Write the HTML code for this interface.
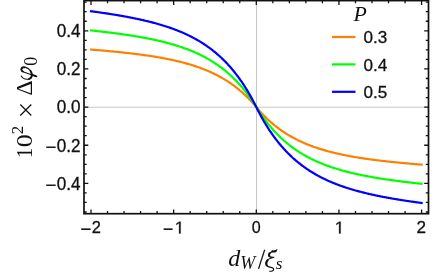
<!DOCTYPE html><html><head><meta charset="utf-8"><style>html,body{margin:0;padding:0;background:#fff;}svg{display:block;will-change:transform;}</style></head><body><svg width="443" height="275" viewBox="0 0 443 275">
<rect width="443" height="275" fill="#fff"/>
<path d="M84.0,107.25 H428.5 M256.5,0.6 V213.7" stroke="#c7c7c7" stroke-width="1" fill="none"/>
<path d="M91.00,49.58 L91.83,49.64 L92.65,49.71 L93.48,49.78 L94.31,49.84 L95.13,49.91 L95.96,49.98 L96.79,50.05 L97.61,50.12 L98.44,50.19 L99.27,50.26 L100.09,50.33 L100.92,50.40 L101.74,50.47 L102.57,50.55 L103.40,50.62 L104.22,50.69 L105.05,50.77 L105.88,50.84 L106.70,50.92 L107.53,50.99 L108.36,51.07 L109.18,51.14 L110.01,51.22 L110.84,51.30 L111.66,51.38 L112.49,51.46 L113.32,51.54 L114.14,51.62 L114.97,51.70 L115.80,51.78 L116.62,51.86 L117.45,51.94 L118.27,52.03 L119.10,52.11 L119.93,52.20 L120.75,52.28 L121.58,52.37 L122.41,52.46 L123.23,52.54 L124.06,52.63 L124.89,52.72 L125.71,52.81 L126.54,52.91 L127.37,53.00 L128.19,53.09 L129.02,53.19 L129.85,53.28 L130.67,53.38 L131.50,53.47 L132.32,53.57 L133.15,53.67 L133.98,53.77 L134.80,53.87 L135.63,53.97 L136.46,54.08 L137.28,54.18 L138.11,54.29 L138.94,54.39 L139.76,54.50 L140.59,54.61 L141.42,54.72 L142.24,54.83 L143.07,54.94 L143.90,55.06 L144.72,55.17 L145.55,55.29 L146.38,55.41 L147.20,55.53 L148.03,55.65 L148.86,55.77 L149.68,55.89 L150.51,56.02 L151.33,56.15 L152.16,56.27 L152.99,56.40 L153.81,56.54 L154.64,56.67 L155.47,56.80 L156.29,56.94 L157.12,57.08 L157.95,57.22 L158.77,57.36 L159.60,57.51 L160.43,57.65 L161.25,57.80 L162.08,57.95 L162.91,58.10 L163.73,58.25 L164.56,58.41 L165.38,58.57 L166.21,58.73 L167.04,58.89 L167.86,59.06 L168.69,59.22 L169.52,59.39 L170.34,59.56 L171.17,59.74 L172.00,59.92 L172.82,60.09 L173.65,60.28 L174.48,60.46 L175.30,60.65 L176.13,60.84 L176.96,61.03 L177.78,61.23 L178.61,61.43 L179.44,61.63 L180.26,61.83 L181.09,62.04 L181.92,62.25 L182.74,62.47 L183.57,62.68 L184.39,62.90 L185.22,63.13 L186.05,63.36 L186.87,63.59 L187.70,63.82 L188.53,64.06 L189.35,64.30 L190.18,64.55 L191.01,64.80 L191.83,65.06 L192.66,65.31 L193.49,65.58 L194.31,65.84 L195.14,66.11 L195.97,66.39 L196.79,66.67 L197.62,66.95 L198.45,67.24 L199.27,67.54 L200.10,67.84 L200.92,68.14 L201.75,68.45 L202.58,68.76 L203.40,69.08 L204.23,69.41 L205.06,69.74 L205.88,70.07 L206.71,70.41 L207.54,70.76 L208.36,71.11 L209.19,71.47 L210.02,71.84 L210.84,72.21 L211.67,72.59 L212.50,72.97 L213.32,73.36 L214.15,73.76 L214.98,74.17 L215.80,74.58 L216.63,75.00 L217.45,75.42 L218.28,75.86 L219.11,76.30 L219.93,76.75 L220.76,77.20 L221.59,77.67 L222.41,78.14 L223.24,78.62 L224.07,79.11 L224.89,79.61 L225.72,80.12 L226.55,80.64 L227.37,81.16 L228.20,81.70 L229.03,82.25 L229.85,82.80 L230.68,83.37 L231.50,83.94 L232.33,84.53 L233.16,85.12 L233.98,85.73 L234.81,86.35 L235.64,86.98 L236.46,87.62 L237.29,88.27 L238.12,88.94 L238.94,89.61 L239.77,90.30 L240.60,91.00 L241.42,91.72 L242.25,92.45 L243.08,93.19 L243.90,93.94 L244.73,94.71 L245.56,95.49 L246.38,96.29 L247.21,97.10 L248.03,97.93 L248.86,98.77 L249.69,99.63 L250.51,100.51 L251.34,101.40 L252.17,102.30 L252.99,103.23 L253.82,104.17 L254.65,105.13 L255.47,106.10 L256.30,107.10 L257.13,108.10 L257.95,109.07 L258.78,110.03 L259.61,110.97 L260.43,111.90 L261.26,112.80 L262.09,113.69 L262.91,114.57 L263.74,115.43 L264.56,116.27 L265.39,117.10 L266.22,117.91 L267.04,118.71 L267.87,119.49 L268.70,120.26 L269.52,121.01 L270.35,121.75 L271.18,122.48 L272.00,123.20 L272.83,123.90 L273.66,124.59 L274.48,125.26 L275.31,125.93 L276.14,126.58 L276.96,127.22 L277.79,127.85 L278.62,128.47 L279.44,129.08 L280.27,129.67 L281.10,130.26 L281.92,130.83 L282.75,131.40 L283.57,131.95 L284.40,132.50 L285.23,133.04 L286.05,133.56 L286.88,134.08 L287.71,134.59 L288.53,135.09 L289.36,135.58 L290.19,136.06 L291.01,136.53 L291.84,137.00 L292.67,137.45 L293.49,137.90 L294.32,138.34 L295.15,138.78 L295.97,139.20 L296.80,139.62 L297.62,140.03 L298.45,140.44 L299.28,140.84 L300.10,141.23 L300.93,141.61 L301.76,141.99 L302.58,142.36 L303.41,142.73 L304.24,143.09 L305.06,143.44 L305.89,143.79 L306.72,144.13 L307.54,144.46 L308.37,144.79 L309.20,145.12 L310.02,145.44 L310.85,145.75 L311.68,146.06 L312.50,146.36 L313.33,146.66 L314.16,146.96 L314.98,147.25 L315.81,147.53 L316.63,147.81 L317.46,148.09 L318.29,148.36 L319.11,148.62 L319.94,148.89 L320.77,149.14 L321.59,149.40 L322.42,149.65 L323.25,149.90 L324.07,150.14 L324.90,150.38 L325.73,150.61 L326.55,150.84 L327.38,151.07 L328.21,151.30 L329.03,151.52 L329.86,151.73 L330.69,151.95 L331.51,152.16 L332.34,152.37 L333.16,152.57 L333.99,152.77 L334.82,152.97 L335.64,153.17 L336.47,153.36 L337.30,153.55 L338.12,153.74 L338.95,153.92 L339.78,154.11 L340.60,154.28 L341.43,154.46 L342.26,154.64 L343.08,154.81 L343.91,154.98 L344.74,155.14 L345.56,155.31 L346.39,155.47 L347.22,155.63 L348.04,155.79 L348.87,155.95 L349.69,156.10 L350.52,156.25 L351.35,156.40 L352.17,156.55 L353.00,156.69 L353.83,156.84 L354.65,156.98 L355.48,157.12 L356.31,157.26 L357.13,157.40 L357.96,157.53 L358.79,157.66 L359.61,157.80 L360.44,157.93 L361.27,158.05 L362.09,158.18 L362.92,158.31 L363.75,158.43 L364.57,158.55 L365.40,158.67 L366.22,158.79 L367.05,158.91 L367.88,159.03 L368.70,159.14 L369.53,159.26 L370.36,159.37 L371.18,159.48 L372.01,159.59 L372.84,159.70 L373.66,159.81 L374.49,159.91 L375.32,160.02 L376.14,160.12 L376.97,160.23 L377.80,160.33 L378.62,160.43 L379.45,160.53 L380.28,160.63 L381.10,160.73 L381.93,160.82 L382.75,160.92 L383.58,161.01 L384.41,161.11 L385.23,161.20 L386.06,161.29 L386.89,161.39 L387.71,161.48 L388.54,161.57 L389.37,161.66 L390.19,161.74 L391.02,161.83 L391.85,161.92 L392.67,162.00 L393.50,162.09 L394.33,162.17 L395.15,162.26 L395.98,162.34 L396.81,162.42 L397.63,162.50 L398.46,162.58 L399.28,162.66 L400.11,162.74 L400.94,162.82 L401.76,162.90 L402.59,162.98 L403.42,163.06 L404.24,163.13 L405.07,163.21 L405.90,163.28 L406.72,163.36 L407.55,163.43 L408.38,163.51 L409.20,163.58 L410.03,163.65 L410.86,163.73 L411.68,163.80 L412.51,163.87 L413.34,163.94 L414.16,164.01 L414.99,164.08 L415.81,164.15 L416.64,164.22 L417.47,164.29 L418.29,164.36 L419.12,164.42 L419.95,164.49 L420.77,164.56 L421.60,164.62" stroke="#ff8000" stroke-width="2.2" fill="none" stroke-linejoin="round" stroke-linecap="square"/>
<path d="M91.00,30.40 L91.83,30.49 L92.65,30.58 L93.48,30.67 L94.31,30.76 L95.13,30.85 L95.96,30.94 L96.79,31.03 L97.61,31.13 L98.44,31.22 L99.27,31.31 L100.09,31.41 L100.92,31.50 L101.74,31.60 L102.57,31.70 L103.40,31.79 L104.22,31.89 L105.05,31.99 L105.88,32.09 L106.70,32.19 L107.53,32.29 L108.36,32.39 L109.18,32.49 L110.01,32.60 L110.84,32.70 L111.66,32.80 L112.49,32.91 L113.32,33.01 L114.14,33.12 L114.97,33.23 L115.80,33.34 L116.62,33.45 L117.45,33.56 L118.27,33.67 L119.10,33.78 L119.93,33.90 L120.75,34.01 L121.58,34.13 L122.41,34.24 L123.23,34.36 L124.06,34.48 L124.89,34.60 L125.71,34.72 L126.54,34.84 L127.37,34.96 L128.19,35.09 L129.02,35.21 L129.85,35.34 L130.67,35.47 L131.50,35.60 L132.32,35.73 L133.15,35.86 L133.98,35.99 L134.80,36.13 L135.63,36.26 L136.46,36.40 L137.28,36.54 L138.11,36.68 L138.94,36.82 L139.76,36.97 L140.59,37.11 L141.42,37.26 L142.24,37.41 L143.07,37.56 L143.90,37.71 L144.72,37.86 L145.55,38.02 L146.38,38.18 L147.20,38.34 L148.03,38.50 L148.86,38.66 L149.68,38.83 L150.51,38.99 L151.33,39.16 L152.16,39.33 L152.99,39.51 L153.81,39.68 L154.64,39.86 L155.47,40.04 L156.29,40.22 L157.12,40.41 L157.95,40.59 L158.77,40.78 L159.60,40.97 L160.43,41.17 L161.25,41.37 L162.08,41.56 L162.91,41.77 L163.73,41.97 L164.56,42.18 L165.38,42.39 L166.21,42.60 L167.04,42.82 L167.86,43.04 L168.69,43.26 L169.52,43.49 L170.34,43.72 L171.17,43.95 L172.00,44.19 L172.82,44.43 L173.65,44.67 L174.48,44.92 L175.30,45.17 L176.13,45.42 L176.96,45.68 L177.78,45.94 L178.61,46.20 L179.44,46.47 L180.26,46.74 L181.09,47.02 L181.92,47.30 L182.74,47.59 L183.57,47.88 L184.39,48.17 L185.22,48.47 L186.05,48.78 L186.87,49.08 L187.70,49.40 L188.53,49.72 L189.35,50.04 L190.18,50.37 L191.01,50.70 L191.83,51.04 L192.66,51.38 L193.49,51.73 L194.31,52.09 L195.14,52.45 L195.97,52.82 L196.79,53.19 L197.62,53.57 L198.45,53.96 L199.27,54.35 L200.10,54.75 L200.92,55.15 L201.75,55.56 L202.58,55.98 L203.40,56.41 L204.23,56.84 L205.06,57.28 L205.88,57.73 L206.71,58.19 L207.54,58.65 L208.36,59.12 L209.19,59.60 L210.02,60.08 L210.84,60.58 L211.67,61.08 L212.50,61.60 L213.32,62.12 L214.15,62.65 L214.98,63.19 L215.80,63.74 L216.63,64.30 L217.45,64.86 L218.28,65.44 L219.11,66.03 L219.93,66.63 L220.76,67.24 L221.59,67.86 L222.41,68.49 L223.24,69.13 L224.07,69.79 L224.89,70.45 L225.72,71.13 L226.55,71.82 L227.37,72.52 L228.20,73.23 L229.03,73.96 L229.85,74.70 L230.68,75.45 L231.50,76.22 L232.33,77.00 L233.16,77.80 L233.98,78.61 L234.81,79.43 L235.64,80.27 L236.46,81.13 L237.29,82.00 L238.12,82.88 L238.94,83.78 L239.77,84.70 L240.60,85.64 L241.42,86.59 L242.25,87.56 L243.08,88.55 L243.90,89.56 L244.73,90.58 L245.56,91.62 L246.38,92.69 L247.21,93.77 L248.03,94.87 L248.86,96.00 L249.69,97.14 L250.51,98.31 L251.34,99.49 L252.17,100.70 L252.99,101.94 L253.82,103.19 L254.65,104.47 L255.47,105.77 L256.30,107.10 L257.13,108.43 L257.95,109.73 L258.78,111.01 L259.61,112.26 L260.43,113.50 L261.26,114.71 L262.09,115.89 L262.91,117.06 L263.74,118.20 L264.56,119.33 L265.39,120.43 L266.22,121.51 L267.04,122.58 L267.87,123.62 L268.70,124.64 L269.52,125.65 L270.35,126.64 L271.18,127.61 L272.00,128.56 L272.83,129.50 L273.66,130.42 L274.48,131.32 L275.31,132.20 L276.14,133.07 L276.96,133.93 L277.79,134.77 L278.62,135.59 L279.44,136.40 L280.27,137.20 L281.10,137.98 L281.92,138.75 L282.75,139.50 L283.57,140.24 L284.40,140.97 L285.23,141.68 L286.05,142.38 L286.88,143.07 L287.71,143.75 L288.53,144.41 L289.36,145.07 L290.19,145.71 L291.01,146.34 L291.84,146.96 L292.67,147.57 L293.49,148.17 L294.32,148.76 L295.15,149.34 L295.97,149.90 L296.80,150.46 L297.62,151.01 L298.45,151.55 L299.28,152.08 L300.10,152.60 L300.93,153.12 L301.76,153.62 L302.58,154.12 L303.41,154.60 L304.24,155.08 L305.06,155.55 L305.89,156.01 L306.72,156.47 L307.54,156.92 L308.37,157.36 L309.20,157.79 L310.02,158.22 L310.85,158.64 L311.68,159.05 L312.50,159.45 L313.33,159.85 L314.16,160.24 L314.98,160.63 L315.81,161.01 L316.63,161.38 L317.46,161.75 L318.29,162.11 L319.11,162.47 L319.94,162.82 L320.77,163.16 L321.59,163.50 L322.42,163.83 L323.25,164.16 L324.07,164.48 L324.90,164.80 L325.73,165.12 L326.55,165.42 L327.38,165.73 L328.21,166.03 L329.03,166.32 L329.86,166.61 L330.69,166.90 L331.51,167.18 L332.34,167.46 L333.16,167.73 L333.99,168.00 L334.82,168.26 L335.64,168.52 L336.47,168.78 L337.30,169.03 L338.12,169.28 L338.95,169.53 L339.78,169.77 L340.60,170.01 L341.43,170.25 L342.26,170.48 L343.08,170.71 L343.91,170.94 L344.74,171.16 L345.56,171.38 L346.39,171.60 L347.22,171.81 L348.04,172.02 L348.87,172.23 L349.69,172.43 L350.52,172.64 L351.35,172.83 L352.17,173.03 L353.00,173.23 L353.83,173.42 L354.65,173.61 L355.48,173.79 L356.31,173.98 L357.13,174.16 L357.96,174.34 L358.79,174.52 L359.61,174.69 L360.44,174.87 L361.27,175.04 L362.09,175.21 L362.92,175.37 L363.75,175.54 L364.57,175.70 L365.40,175.86 L366.22,176.02 L367.05,176.18 L367.88,176.34 L368.70,176.49 L369.53,176.64 L370.36,176.79 L371.18,176.94 L372.01,177.09 L372.84,177.23 L373.66,177.38 L374.49,177.52 L375.32,177.66 L376.14,177.80 L376.97,177.94 L377.80,178.07 L378.62,178.21 L379.45,178.34 L380.28,178.47 L381.10,178.60 L381.93,178.73 L382.75,178.86 L383.58,178.99 L384.41,179.11 L385.23,179.24 L386.06,179.36 L386.89,179.48 L387.71,179.60 L388.54,179.72 L389.37,179.84 L390.19,179.96 L391.02,180.07 L391.85,180.19 L392.67,180.30 L393.50,180.42 L394.33,180.53 L395.15,180.64 L395.98,180.75 L396.81,180.86 L397.63,180.97 L398.46,181.08 L399.28,181.19 L400.11,181.29 L400.94,181.40 L401.76,181.50 L402.59,181.60 L403.42,181.71 L404.24,181.81 L405.07,181.91 L405.90,182.01 L406.72,182.11 L407.55,182.21 L408.38,182.31 L409.20,182.41 L410.03,182.50 L410.86,182.60 L411.68,182.70 L412.51,182.79 L413.34,182.89 L414.16,182.98 L414.99,183.07 L415.81,183.17 L416.64,183.26 L417.47,183.35 L418.29,183.44 L419.12,183.53 L419.95,183.62 L420.77,183.71 L421.60,183.80" stroke="#00ff00" stroke-width="2.2" fill="none" stroke-linejoin="round" stroke-linecap="square"/>
<path d="M91.00,11.23 L91.83,11.34 L92.65,11.45 L93.48,11.56 L94.31,11.67 L95.13,11.79 L95.96,11.90 L96.79,12.02 L97.61,12.13 L98.44,12.25 L99.27,12.37 L100.09,12.49 L100.92,12.60 L101.74,12.72 L102.57,12.84 L103.40,12.97 L104.22,13.09 L105.05,13.21 L105.88,13.34 L106.70,13.46 L107.53,13.59 L108.36,13.71 L109.18,13.84 L110.01,13.97 L110.84,14.10 L111.66,14.23 L112.49,14.36 L113.32,14.49 L114.14,14.63 L114.97,14.76 L115.80,14.90 L116.62,15.03 L117.45,15.17 L118.27,15.31 L119.10,15.45 L119.93,15.59 L120.75,15.74 L121.58,15.88 L122.41,16.03 L123.23,16.17 L124.06,16.32 L124.89,16.47 L125.71,16.62 L126.54,16.78 L127.37,16.93 L128.19,17.09 L129.02,17.24 L129.85,17.40 L130.67,17.56 L131.50,17.72 L132.32,17.89 L133.15,18.05 L133.98,18.22 L134.80,18.39 L135.63,18.56 L136.46,18.73 L137.28,18.90 L138.11,19.08 L138.94,19.26 L139.76,19.43 L140.59,19.62 L141.42,19.80 L142.24,19.99 L143.07,20.17 L143.90,20.36 L144.72,20.56 L145.55,20.75 L146.38,20.95 L147.20,21.15 L148.03,21.35 L148.86,21.55 L149.68,21.76 L150.51,21.97 L151.33,22.18 L152.16,22.39 L152.99,22.61 L153.81,22.83 L154.64,23.05 L155.47,23.27 L156.29,23.50 L157.12,23.73 L157.95,23.97 L158.77,24.20 L159.60,24.44 L160.43,24.69 L161.25,24.93 L162.08,25.18 L162.91,25.43 L163.73,25.69 L164.56,25.95 L165.38,26.21 L166.21,26.48 L167.04,26.75 L167.86,27.03 L168.69,27.30 L169.52,27.59 L170.34,27.87 L171.17,28.16 L172.00,28.46 L172.82,28.76 L173.65,29.06 L174.48,29.37 L175.30,29.68 L176.13,30.00 L176.96,30.32 L177.78,30.65 L178.61,30.98 L179.44,31.31 L180.26,31.65 L181.09,32.00 L181.92,32.35 L182.74,32.71 L183.57,33.07 L184.39,33.44 L185.22,33.81 L186.05,34.19 L186.87,34.58 L187.70,34.97 L188.53,35.37 L189.35,35.77 L190.18,36.18 L191.01,36.60 L191.83,37.03 L192.66,37.46 L193.49,37.89 L194.31,38.34 L195.14,38.79 L195.97,39.25 L196.79,39.72 L197.62,40.19 L198.45,40.67 L199.27,41.16 L200.10,41.66 L200.92,42.17 L201.75,42.68 L202.58,43.20 L203.40,43.74 L204.23,44.28 L205.06,44.83 L205.88,45.39 L206.71,45.96 L207.54,46.54 L208.36,47.12 L209.19,47.72 L210.02,48.33 L210.84,48.95 L211.67,49.58 L212.50,50.22 L213.32,50.87 L214.15,51.54 L214.98,52.21 L215.80,52.90 L216.63,53.59 L217.45,54.30 L218.28,55.03 L219.11,55.76 L219.93,56.51 L220.76,57.27 L221.59,58.05 L222.41,58.84 L223.24,59.64 L224.07,60.46 L224.89,61.29 L225.72,62.14 L226.55,63.00 L227.37,63.87 L228.20,64.77 L229.03,65.68 L229.85,66.60 L230.68,67.54 L231.50,68.50 L232.33,69.48 L233.16,70.47 L233.98,71.48 L234.81,72.51 L235.64,73.56 L236.46,74.63 L237.29,75.72 L238.12,76.83 L238.94,77.95 L239.77,79.10 L240.60,80.27 L241.42,81.46 L242.25,82.68 L243.08,83.91 L243.90,85.17 L244.73,86.45 L245.56,87.76 L246.38,89.08 L247.21,90.44 L248.03,91.82 L248.86,93.22 L249.69,94.65 L250.51,96.11 L251.34,97.59 L252.17,99.11 L252.99,100.65 L253.82,102.21 L254.65,103.81 L255.47,105.44 L256.30,107.10 L257.13,108.76 L257.95,110.39 L258.78,111.99 L259.61,113.55 L260.43,115.09 L261.26,116.61 L262.09,118.09 L262.91,119.55 L263.74,120.98 L264.56,122.38 L265.39,123.76 L266.22,125.12 L267.04,126.44 L267.87,127.75 L268.70,129.03 L269.52,130.29 L270.35,131.52 L271.18,132.74 L272.00,133.93 L272.83,135.10 L273.66,136.25 L274.48,137.37 L275.31,138.48 L276.14,139.57 L276.96,140.64 L277.79,141.69 L278.62,142.72 L279.44,143.73 L280.27,144.72 L281.10,145.70 L281.92,146.66 L282.75,147.60 L283.57,148.52 L284.40,149.43 L285.23,150.33 L286.05,151.20 L286.88,152.06 L287.71,152.91 L288.53,153.74 L289.36,154.56 L290.19,155.36 L291.01,156.15 L291.84,156.93 L292.67,157.69 L293.49,158.44 L294.32,159.17 L295.15,159.90 L295.97,160.61 L296.80,161.30 L297.62,161.99 L298.45,162.66 L299.28,163.33 L300.10,163.98 L300.93,164.62 L301.76,165.25 L302.58,165.87 L303.41,166.48 L304.24,167.08 L305.06,167.66 L305.89,168.24 L306.72,168.81 L307.54,169.37 L308.37,169.92 L309.20,170.46 L310.02,171.00 L310.85,171.52 L311.68,172.03 L312.50,172.54 L313.33,173.04 L314.16,173.53 L314.98,174.01 L315.81,174.48 L316.63,174.95 L317.46,175.41 L318.29,175.86 L319.11,176.31 L319.94,176.74 L320.77,177.17 L321.59,177.60 L322.42,178.02 L323.25,178.43 L324.07,178.83 L324.90,179.23 L325.73,179.62 L326.55,180.01 L327.38,180.39 L328.21,180.76 L329.03,181.13 L329.86,181.49 L330.69,181.85 L331.51,182.20 L332.34,182.55 L333.16,182.89 L333.99,183.22 L334.82,183.55 L335.64,183.88 L336.47,184.20 L337.30,184.52 L338.12,184.83 L338.95,185.14 L339.78,185.44 L340.60,185.74 L341.43,186.04 L342.26,186.33 L343.08,186.61 L343.91,186.90 L344.74,187.17 L345.56,187.45 L346.39,187.72 L347.22,187.99 L348.04,188.25 L348.87,188.51 L349.69,188.77 L350.52,189.02 L351.35,189.27 L352.17,189.51 L353.00,189.76 L353.83,190.00 L354.65,190.23 L355.48,190.47 L356.31,190.70 L357.13,190.93 L357.96,191.15 L358.79,191.37 L359.61,191.59 L360.44,191.81 L361.27,192.02 L362.09,192.23 L362.92,192.44 L363.75,192.65 L364.57,192.85 L365.40,193.05 L366.22,193.25 L367.05,193.45 L367.88,193.64 L368.70,193.84 L369.53,194.03 L370.36,194.21 L371.18,194.40 L372.01,194.58 L372.84,194.77 L373.66,194.94 L374.49,195.12 L375.32,195.30 L376.14,195.47 L376.97,195.64 L377.80,195.81 L378.62,195.98 L379.45,196.15 L380.28,196.31 L381.10,196.48 L381.93,196.64 L382.75,196.80 L383.58,196.96 L384.41,197.11 L385.23,197.27 L386.06,197.42 L386.89,197.58 L387.71,197.73 L388.54,197.88 L389.37,198.03 L390.19,198.17 L391.02,198.32 L391.85,198.46 L392.67,198.61 L393.50,198.75 L394.33,198.89 L395.15,199.03 L395.98,199.17 L396.81,199.30 L397.63,199.44 L398.46,199.57 L399.28,199.71 L400.11,199.84 L400.94,199.97 L401.76,200.10 L402.59,200.23 L403.42,200.36 L404.24,200.49 L405.07,200.61 L405.90,200.74 L406.72,200.86 L407.55,200.99 L408.38,201.11 L409.20,201.23 L410.03,201.36 L410.86,201.48 L411.68,201.60 L412.51,201.71 L413.34,201.83 L414.16,201.95 L414.99,202.07 L415.81,202.18 L416.64,202.30 L417.47,202.41 L418.29,202.53 L419.12,202.64 L419.95,202.75 L420.77,202.86 L421.60,202.97" stroke="#0000ff" stroke-width="2.2" fill="none" stroke-linejoin="round" stroke-linecap="square"/>
<path d="M91.00,213.7 v-4.3 M91.00,0.6 v4.3 M107.53,213.7 v-2.7 M107.53,0.6 v2.7 M124.06,213.7 v-2.7 M124.06,0.6 v2.7 M140.59,213.7 v-2.7 M140.59,0.6 v2.7 M157.12,213.7 v-2.7 M157.12,0.6 v2.7 M173.65,213.7 v-4.3 M173.65,0.6 v4.3 M190.18,213.7 v-2.7 M190.18,0.6 v2.7 M206.71,213.7 v-2.7 M206.71,0.6 v2.7 M223.24,213.7 v-2.7 M223.24,0.6 v2.7 M239.77,213.7 v-2.7 M239.77,0.6 v2.7 M256.30,213.7 v-4.3 M256.30,0.6 v4.3 M272.83,213.7 v-2.7 M272.83,0.6 v2.7 M289.36,213.7 v-2.7 M289.36,0.6 v2.7 M305.89,213.7 v-2.7 M305.89,0.6 v2.7 M322.42,213.7 v-2.7 M322.42,0.6 v2.7 M338.95,213.7 v-4.3 M338.95,0.6 v4.3 M355.48,213.7 v-2.7 M355.48,0.6 v2.7 M372.01,213.7 v-2.7 M372.01,0.6 v2.7 M388.54,213.7 v-2.7 M388.54,0.6 v2.7 M405.07,213.7 v-2.7 M405.07,0.6 v2.7 M421.60,213.7 v-4.3 M421.60,0.6 v4.3 M84.0,212.01 h2.7 M428.5,212.01 h-2.7 M84.0,202.47 h2.7 M428.5,202.47 h-2.7 M84.0,192.94 h2.7 M428.5,192.94 h-2.7 M84.0,183.40 h4.3 M428.5,183.40 h-4.3 M84.0,173.86 h2.7 M428.5,173.86 h-2.7 M84.0,164.32 h2.7 M428.5,164.32 h-2.7 M84.0,154.79 h2.7 M428.5,154.79 h-2.7 M84.0,145.25 h4.3 M428.5,145.25 h-4.3 M84.0,135.71 h2.7 M428.5,135.71 h-2.7 M84.0,126.17 h2.7 M428.5,126.17 h-2.7 M84.0,116.64 h2.7 M428.5,116.64 h-2.7 M84.0,107.10 h4.3 M428.5,107.10 h-4.3 M84.0,97.56 h2.7 M428.5,97.56 h-2.7 M84.0,88.02 h2.7 M428.5,88.02 h-2.7 M84.0,78.49 h2.7 M428.5,78.49 h-2.7 M84.0,68.95 h4.3 M428.5,68.95 h-4.3 M84.0,59.41 h2.7 M428.5,59.41 h-2.7 M84.0,49.87 h2.7 M428.5,49.87 h-2.7 M84.0,40.34 h2.7 M428.5,40.34 h-2.7 M84.0,30.80 h4.3 M428.5,30.80 h-4.3 M84.0,21.26 h2.7 M428.5,21.26 h-2.7 M84.0,11.72 h2.7 M428.5,11.72 h-2.7 M84.0,2.19 h2.7 M428.5,2.19 h-2.7" stroke="#111" stroke-width="1.3" fill="none"/>
<rect x="84.0" y="0.6" width="344.5" height="213.1" fill="none" stroke="#111" stroke-width="1.7"/>
<g font-family="Liberation Sans, sans-serif" font-size="17.1" fill="#111" stroke="#111" stroke-width="0.3">
<text transform="translate(91.35,234.75) scale(1.08,1.0)" text-anchor="end">−</text>
<text transform="translate(91.75,233.4) scale(0.96,1.0)">2</text>
<text transform="translate(173.35,234.75) scale(1.03,1.0)" text-anchor="end">−</text>
<path transform="translate(174.80,233.4) scale(0.00835,-0.00835)" d="M515 0V1237L197 1010V1180L530 1409H696V0Z" stroke-width="35.9"/>
<text transform="translate(256.30,233.4) scale(0.94,1.0)" text-anchor="middle">0</text>
<path transform="translate(334.80,233.4) scale(0.00835,-0.00835)" d="M515 0V1237L197 1010V1180L530 1409H696V0Z" stroke-width="35.9"/>
<text transform="translate(421.20,233.4) scale(1.0,1.0)" text-anchor="middle">2</text>
<text transform="translate(80.4,37.15) scale(1,1.035)" text-anchor="end">0.4</text>
<text transform="translate(80.4,75.30) scale(1,1.035)" text-anchor="end">0.2</text>
<text transform="translate(80.4,113.45) scale(1,1.035)" text-anchor="end">0.0</text>
<text transform="translate(80.4,151.60) scale(1,1.035)" text-anchor="end">0.2</text>
<text transform="translate(56.18,152.50) scale(1.08,1.035)" text-anchor="end">−</text>
<text transform="translate(80.4,189.75) scale(1,1.035)" text-anchor="end">0.4</text>
<text transform="translate(56.18,190.65) scale(1.08,1.035)" text-anchor="end">−</text>
<text transform="translate(363.4,43.10) scale(1,1.0)">0.3</text>
<text transform="translate(363.4,70.50) scale(1,1.0)">0.4</text>
<text transform="translate(363.4,97.90) scale(1,1.0)">0.5</text>
</g>
<path d="M332,37.00 H355.5" stroke="#ff8000" stroke-width="2.2" fill="none"/>
<path d="M332,64.40 H355.5" stroke="#00ff00" stroke-width="2.2" fill="none"/>
<path d="M332,91.80 H355.5" stroke="#0000ff" stroke-width="2.2" fill="none"/>
<text transform="translate(353.5,20.9) scale(1.09,1)" font-family="Liberation Serif, serif" font-style="italic" font-size="20" fill="#111">P</text>
<g font-family="Liberation Serif, serif" font-style="italic" fill="#111">
<text x="228.3" y="265.6" font-size="24">d</text>
<text x="240.2" y="269.3" font-size="18">W</text>
<path d="M258.5,268.9 L264.7,249.7" stroke="#111" stroke-width="1.25" fill="none"/>
<text x="275.75" y="269.3" font-size="17">s</text>
</g>
<g fill="none" stroke="#111" stroke-linecap="round" stroke-linejoin="round">
<path stroke-width="1.15" d="M276.9,249.7 C276.0,251.2 274.2,251.7 272.2,251.4 C270.2,252.4 268.8,253.9 268.9,255.4 C269.1,257.0 271.4,257.5 273.9,257.3 C269.6,258.2 266.2,260.4 266.1,263.2 C266.0,266.0 268.4,267.0 271.0,267.4 C272.6,267.7 273.8,268.3 273.6,269.6 C273.4,270.9 271.6,271.5 269.7,271.2"/>
<path stroke-width="2.1" d="M275.7,251.0 C274.6,251.6 273.4,251.6 272.4,251.4 M269.5,253.4 C268.9,254.2 268.8,255.2 269.3,256.1 M267.6,260.3 C266.2,261.8 265.9,263.6 266.6,265.2"/>
</g>
<g transform="translate(32.2,160) rotate(-90)" font-family="Liberation Serif, serif" fill="#111">
<text transform="translate(2.07,0) scale(0.85,1)" font-size="24">1</text>
<text transform="translate(12.87,0) scale(1.08,1)" font-size="24">0</text>
<text x="25.7" y="-8.9" font-size="17">2</text>
<path d="M44.5,-11.9 L55.5,-0.9 M44.5,-0.9 L55.5,-11.9" stroke="#111" stroke-width="1.2" fill="none"/>
<text x="64.2" y="0" font-size="24">Δ</text>
<text x="94.35" y="4.5" font-size="18">0</text>
<g transform="translate(80.6,0)" fill="none" stroke="#111" stroke-linecap="round" stroke-linejoin="round">
<path stroke-width="1.1" d="M3.3,-11.0 C1.2,-9.8 -0.1,-7.2 0.2,-4.2 C0.5,-1.6 2.0,-0.3 4.3,-0.3 C7.8,-0.3 11.2,-3.0 12.0,-6.8 C12.6,-9.6 11.4,-11.0 9.8,-10.9 C8.4,-10.8 7.9,-9.9 7.5,-8.6 L3.7,2.2 L3.0,4.3"/>
<path stroke-width="1.9" d="M0.3,-3.4 C0.7,-1.5 2.1,-0.4 4.3,-0.4 C5.9,-0.4 7.4,-0.9 8.7,-1.8 M12.0,-7.6 C12.4,-9.8 11.3,-10.9 9.8,-10.8 C8.9,-10.7 8.3,-10.2 7.9,-9.4 M4.2,0.8 L3.1,4.2"/>
</g>
</g>
</svg></body></html>
